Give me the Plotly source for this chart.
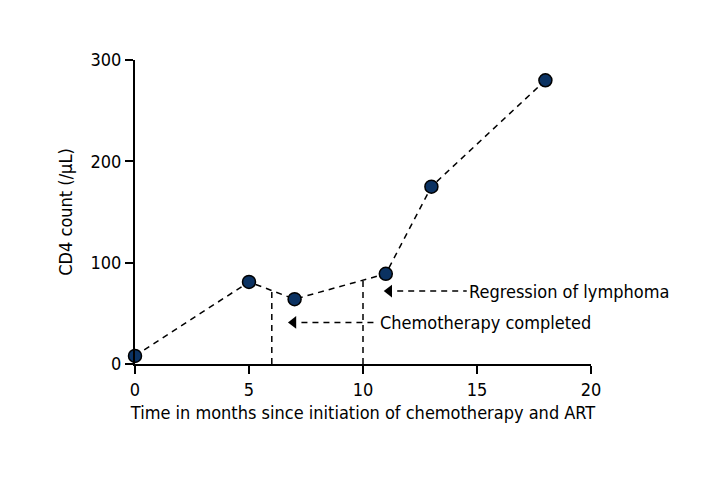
import plotly.graph_objects as go

months = [0, 5, 7, 11, 13, 18]
cd4 = [8, 81, 64, 89, 175, 280]

# vertical reference lines (event times) and the label arrows
event_x = [6, 10]
event_top = [72.5, 82.75]
labels = ["Chemotherapy completed", "Regression of lymphoma"]
label_y = [41, 72]
arrow_head_x = [6.95, 11.15]
arrow_tail_x = [10.65, 14.55]

FONT = "DejaVu Sans Condensed, Liberation Sans Narrow, Arial Narrow, sans-serif"
DASH = "6px,5px"

fig = go.Figure()

for ex, et in zip(event_x, event_top):
    fig.add_trace(go.Scatter(x=[ex, ex], y=[0, et], mode="lines",
                             line=dict(color="black", width=1.5, dash=DASH),
                             showlegend=False, hoverinfo="skip"))

for hx, tx, ly, lab in zip(arrow_head_x, arrow_tail_x, label_y, labels):
    fig.add_trace(go.Scatter(x=[hx + 0.35, tx], y=[ly, ly], mode="lines",
                             line=dict(color="black", width=1.5, dash=DASH),
                             showlegend=False, hoverinfo="skip"))
    fig.add_trace(go.Scatter(x=[hx], y=[ly], mode="markers",
                             marker=dict(symbol="triangle-left", size=11, color="black"),
                             showlegend=False, hoverinfo="skip", cliponaxis=False))
    fig.add_annotation(x=tx, y=ly, text=lab, showarrow=False, xanchor="left",
                       xshift=0, font=dict(family=FONT, size=18, color="black"))

fig.add_trace(go.Scatter(x=months, y=cd4, mode="lines+markers",
                         line=dict(color="black", width=1.5, dash=DASH),
                         marker=dict(size=13, color="#0b3262",
                                     line=dict(color="black", width=1.5)),
                         showlegend=False, cliponaxis=False))

fig.update_layout(
    width=720, height=480,
    margin=dict(l=127, r=137, t=52, b=124),
    plot_bgcolor="white", paper_bgcolor="white",
    font=dict(family=FONT, size=18, color="black"),
    xaxis=dict(range=[0, 20], tickvals=[0, 5, 10, 15, 20], showline=True,
               linecolor="black", linewidth=2, ticks="outside", ticklen=8,
               tickwidth=2, tickcolor="black", showgrid=False, zeroline=False,
               automargin=False,
               title=dict(text="Time in months since initiation of chemotherapy and ART",
                          standoff=8, font=dict(size=18))),
    yaxis=dict(range=[0, 300], tickvals=[0, 100, 200, 300], showline=True,
               linecolor="black", linewidth=2, ticks="outside", ticklen=8,
               tickwidth=2, tickcolor="black", showgrid=False, zeroline=False,
               automargin=False,
               title=dict(text="CD4 count (/µL)", standoff=13, font=dict(size=18))),
)

fig.write_html("out.html")
